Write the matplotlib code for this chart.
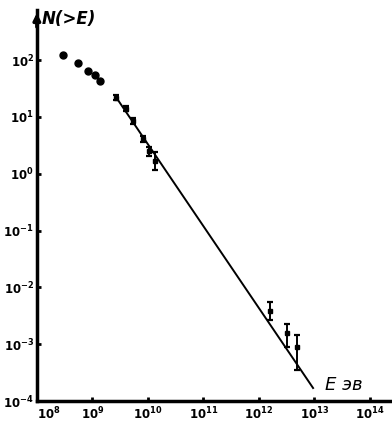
import numpy as np
import matplotlib.pyplot as plt

# low-energy points (no bars)
low_e = [2.9e8, 5.6e8, 8.5e8, 1.1e9, 1.4e9]
low_n = [123, 89, 65, 55, 43]

# points along the fitted line
mid_e = [2.7e9, 4.1e9, 5.5e9, 8.3e9, 1.05e10, 1.35e10]
mid_n = [22, 14, 8.5, 4.1, 2.5, 1.7]
mid_lo = [20, 12.5, 7.5, 3.6, 2.1, 1.17]
mid_hi = [24, 15.5, 9.6, 4.7, 3.0, 2.4]

# high-energy points
high_e = [1.6e12, 3.2e12, 4.8e12]
high_n = [3.8e-3, 1.6e-3, 8.9e-4]
high_lo = [2.7e-3, 8.9e-4, 3.5e-4]
high_hi = [5.5e-3, 2.3e-3, 1.45e-3]

# power-law line
line_e = [2.7e9, 9.5e12]
line_n = [22, 1.7e-4]

xticks = [1e8, 1e9, 1e10, 1e11, 1e12, 1e13, 1e14]
xlabels = ['$10^{8}$', '$10^{9}$', '$10^{10}$', '$10^{11}$', '$10^{12}$', '$10^{13}$', '$10^{14}$']
yticks = [1e-4, 1e-3, 1e-2, 1e-1, 1e0, 1e1, 1e2]
ylabels = ['$10^{-4}$', '$10^{-3}$', '$10^{-2}$', '$10^{-1}$', '$10^{0}$', '$10^{1}$', '$10^{2}$']

plt.rcParams['mathtext.default'] = 'bf'

fig = plt.figure(figsize=(3.92, 4.24), dpi=100)
ax = fig.add_axes([0.094, 0.054, 0.906, 0.922])
ax.set_xscale('log')
ax.set_yscale('log')
ax.set_xlim(10**8, 10**14.4)
ax.set_ylim(1e-4, 10**2.88)

ax.plot(line_e, line_n, color='black', lw=1.4)
ax.plot(low_e, low_n, 'o', color='black', ms=5)

def bars(e, n, lo, hi, ms):
    n = np.array(n)
    err = [n - np.array(lo), np.array(hi) - n]
    ax.errorbar(e, n, yerr=err, fmt='s', color='black', ms=ms,
                capsize=2.5, elinewidth=1.4, capthick=1.6)

bars(mid_e, mid_n, mid_lo, mid_hi, 3.5)
bars(high_e, high_n, high_lo, high_hi, 3.5)

for s in ['top', 'right']:
    ax.spines[s].set_visible(False)
for s in ['left', 'bottom']:
    ax.spines[s].set_linewidth(2.5)

ax.minorticks_off()
ax.set_xticks(xticks)
ax.set_xticklabels(xlabels)
ax.set_yticks(yticks)
ax.set_yticklabels(ylabels)
ax.tick_params(direction='in', length=3, width=2, labelsize=8.5, pad=2)
ax.tick_params(axis='x', pad=3)
ax.get_xticklabels()[0].set_horizontalalignment('left')

# arrow on y axis
ax.annotate('', xy=(0, 1.0), xycoords='axes fraction', xytext=(0, 0.95),
            arrowprops=dict(arrowstyle='-|>', color='black', lw=2.5,
                            mutation_scale=10))

fig.text(0.107, 0.955, 'N(>E)', fontsize=12, fontweight='bold',
         style='italic', ha='left', va='center')
fig.text(0.83, 0.093, 'E эв', fontsize=13, style='italic',
         ha='left', va='center')

plt.savefig('out.png', dpi=100)
